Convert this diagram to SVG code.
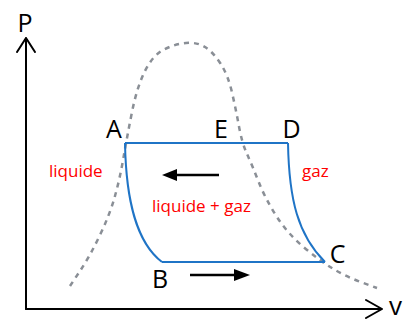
<svg xmlns="http://www.w3.org/2000/svg" width="414" height="322" viewBox="0 0 414 322">
  <style>
    .axis { fill: none; stroke: #000; stroke-width: 2; stroke-linecap: round; stroke-linejoin: round; }
    .letter { font-family: "Open Sans", "Noto Sans", "Liberation Sans", sans-serif; font-size: 25px; fill: #000; text-anchor: middle; }
    .zone { font-family: "Open Sans", "Noto Sans", "Liberation Sans", sans-serif; font-size: 17px; fill: #ff0000; }
    .cycle { fill: none; stroke: #1f74c6; stroke-width: 2; stroke-linejoin: round; }
    .dome { fill: none; stroke: #8a8f96; stroke-width: 2.5; stroke-dasharray: 5 5; }
    .flow { stroke: #000; stroke-width: 2.5; }
    .head { fill: #000; }
  </style>
  <rect width="414" height="322" fill="#fff"/>

  <g id="axes">
    <path class="axis" d="M26,309 L26,38 M17,52 L26,38 L35,52"/>
    <path class="axis" d="M26,309 L382,309 M366,300 L382,309 L366,318"/>
    <text class="letter" x="25" y="32">P</text>
    <text class="letter" x="395.5" y="315" style="font-size:26px">v</text>
  </g>

  <g id="dome">
    <path class="dome" d="M70,286 L80,271 Q90,256 100,235 Q110,214 115,196 Q120,178 123.5,157.5 Q127,137 132,112 Q137,87 145,71 Q153,55 164,49.5 Q175,44 186,43 Q197,42 205,47 Q213,52 220.5,63.5 Q228,75 232,92.5 Q236,110 239,126.5 Q242,143 247,154 Q252,165 258.5,181.5 Q265,198 276,215.5 Q287,233 303.5,247 Q320,261 333.5,269 Q347,277 362,282.5 L377,288"/>
  </g>

  <g id="connectors">
    <path class="cycle" d="M125,143 L288,143"/>
    <path class="cycle" d="M288,143 C289,200 298,235 325,262"/>
    <path class="cycle" d="M325,262 L162,262"/>
    <path class="cycle" d="M162,262 C136,242 126,200 125,143"/>
    <g id="arrow-left">
      <line class="flow" x1="219" y1="175" x2="174" y2="175"/>
      <polygon class="head" points="162,175 177,169 177,181"/>
    </g>
    <g id="arrow-right">
      <line class="flow" x1="190" y1="275" x2="238" y2="275"/>
      <polygon class="head" points="250,275 234,269 234,281"/>
    </g>
  </g>

  <g id="node-A"><text class="letter" x="114" y="138">A</text></g>
  <g id="node-E"><text class="letter" x="221" y="138">E</text></g>
  <g id="node-D"><text class="letter" x="291.5" y="138">D</text></g>
  <g id="node-B"><text class="letter" x="160" y="288">B</text></g>
  <g id="node-C"><text class="letter" x="337.5" y="263">C</text></g>

  <g id="zones">
    <text class="zone" x="49" y="177">liquide</text>
    <text class="zone" x="152" y="212">liquide + gaz</text>
    <text class="zone" x="302" y="177">gaz</text>
  </g>
</svg>
